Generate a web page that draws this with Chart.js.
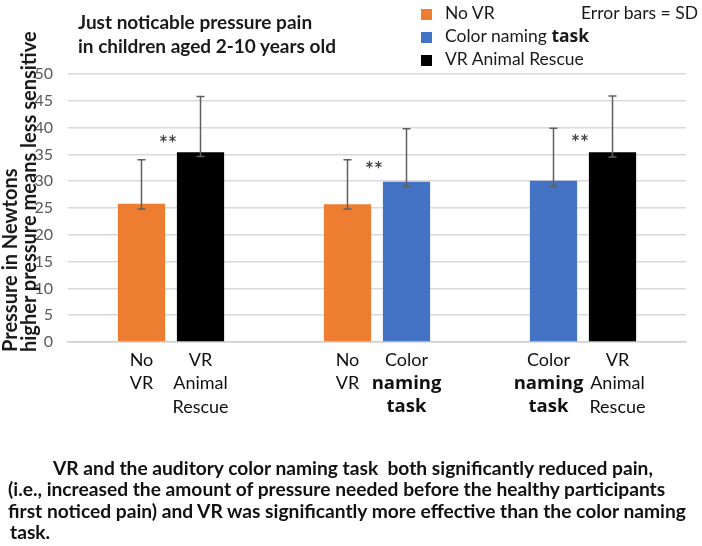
<!DOCTYPE html>
<html>
<head>
<meta charset="utf-8">
<script src="https://cdn.jsdelivr.net/npm/chart.js@4.4.1/dist/chart.umd.min.js"></script>
<style>
    html, body { margin: 0; padding: 0; background: #fff; }
    #wrap { position: relative; width: 702px; height: 546px; overflow: hidden; font-family: Lato, "Open Sans", sans-serif; color: #1a1a1a; }
    #chart { position: absolute; left: 0; top: 0; }
    .title { position: absolute; left: 78px; top: 10px; font-weight: bold; font-size: 19px; line-height: 24px; white-space: nowrap; }
    .legend { position: absolute; left: 421px; top: 1px; font-size: 17.5px; white-space: nowrap; }
    .legend div { height: 23px; line-height: 23px; }
    .legend .box { display: inline-block; width: 11px; height: 11px; margin-right: 13px; vertical-align: -1px; }
    .legend b { font-family: "Open Sans", sans-serif; }
    .note { position: absolute; left: 581px; top: 1px; font-size: 17.5px; line-height: 23px; white-space: nowrap; }
    .ytitle { position: absolute; left: 0px; top: 352px; transform: rotate(-90deg); transform-origin: 0 0;
              font-weight: bold; font-size: 20px; line-height: 19px; white-space: nowrap; }
    .caption div { position: absolute; font-family: Lato, sans-serif;
                   font-weight: bold; font-size: 19.2px; line-height: 21px; white-space: nowrap; color: #111; }
</style>
</head>
<body>
<div id="wrap">
    <canvas id="chart" width="702" height="546"></canvas>
    <div class="title">Just noticable pressure pain<br>in children aged 2-10 years old</div>
    <div class="legend" id="legend"></div>
    <div class="note">Error bars = SD</div>
    <div class="ytitle">Pressure in Newtons<br>higher pressure means less sensitive</div>
    <div class="caption">
        <div style="left:53px; top:457px;">VR and the auditory color naming task&nbsp; both significantly reduced pain,</div>
        <div style="left:8px; top:478px;">(i.e., increased the amount of pressure needed before the healthy participants</div>
        <div style="left:8px; top:500px;">first noticed pain) and VR was significantly more effective than the color naming</div>
        <div style="left:10px; top:521px;">task.</div>
    </div>
</div>
<script>
// three comparisons, each a pair of bars (left / right)
const categories = ["No VR vs VR Animal Rescue", "No VR vs Color naming task", "Color naming task vs VR Animal Rescue"];
const conditions = ["No VR", "Color naming task", "VR Animal Rescue"];
const leftConditions = ["No VR", "No VR", "Color naming task"];
const rightConditions = ["VR Animal Rescue", "Color naming task", "VR Animal Rescue"];

const leftValues = [25.8, 25.7, 30.1];
const rightValues = [35.4, 29.9, 35.4];
const leftErrLow = [24.8, 24.8, 29.0];
const leftErrHigh = [34.0, 34.0, 39.9];
const rightErrLow = [34.6, 29.0, 34.5];
const rightErrHigh = [45.8, 39.8, 45.9];

const sigMarks = ["**", "**", "**"];
const sigValues = [37.8, 32.9, 38.1];

const leftLabels = [["No", "VR"], ["No", "VR"], ["Color", "naming", "task"]];
const rightLabels = [["VR", "Animal", "Rescue"], ["Color", "naming", "task"], ["VR", "Animal", "Rescue"]];

const yTicks = [0, 5, 10, 15, 20, 25, 30, 35, 40, 45, 50];

const colors = {
    "No VR": "#ED7D31",
    "Color naming task": "#4472C4",
    "VR Animal Rescue": "#000000"
};

const legendEl = document.getElementById("legend");
conditions.forEach(c => {
    const row = document.createElement("div");
    const text = c.replace("task", "<b>task</b>");
    row.innerHTML = `<span class="box" style="background:${colors[c]}"></span>${text}`;
    legendEl.appendChild(row);
});

function wordFont(word) {
    const bold = word === "naming" || word === "task";
    return bold ? "bold 18.5px 'Open Sans', sans-serif" : "18px Lato, sans-serif";
}

function labelWidth(ctx, lines) {
    let w = 0;
    lines.forEach(word => {
        ctx.font = wordFont(word);
        w = Math.max(w, ctx.measureText(word).width);
    });
    return w;
}

const overlayPlugin = {
    id: "overlay",
    afterDatasetsDraw(chart) {
        const ctx = chart.ctx;
        const yScale = chart.scales.y;
        const xScale = chart.scales.x;
        ctx.save();

        // error bars
        ctx.strokeStyle = "#5f5f5f";
        ctx.lineWidth = 1.5;
        const errs = [[leftErrLow, leftErrHigh], [rightErrLow, rightErrHigh]];
        errs.forEach((pair, di) => {
            chart.getDatasetMeta(di).data.forEach((bar, i) => {
                const yl = yScale.getPixelForValue(pair[0][i]);
                const yh = yScale.getPixelForValue(pair[1][i]);
                ctx.beginPath();
                ctx.moveTo(bar.x, yl); ctx.lineTo(bar.x, yh);
                ctx.moveTo(bar.x - 4, yl); ctx.lineTo(bar.x + 4, yl);
                ctx.moveTo(bar.x - 4, yh); ctx.lineTo(bar.x + 4, yh);
                ctx.stroke();
            });
        });

        // significance stars
        ctx.fillStyle = "#444";
        ctx.font = "bold 21px Lato, sans-serif";
        ctx.textAlign = "center";
        ctx.textBaseline = "middle";
        sigMarks.forEach((m, i) => {
            ctx.fillText(m, xScale.getPixelForValue(i) - 3, yScale.getPixelForValue(sigValues[i]) + 5);
        });

        // labels under each bar, pushed apart a little when a pair would touch
        ctx.fillStyle = "#111";
        const leftBars = chart.getDatasetMeta(0).data;
        const rightBars = chart.getDatasetMeta(1).data;
        categories.forEach((c, i) => {
            const wl = labelWidth(ctx, leftLabels[i]);
            const wr = labelWidth(ctx, rightLabels[i]);
            const overlap = (wl + wr) / 2 + 6 - (rightBars[i].x - leftBars[i].x);
            const shift = overlap > 0 ? overlap / 2 : 0;
            [[leftLabels[i], leftBars[i].x - shift], [rightLabels[i], rightBars[i].x + shift]].forEach(([lines, x]) => {
                lines.forEach((word, li) => {
                    ctx.font = wordFont(word);
                    ctx.fillText(word, x, yScale.bottom + 18 + li * 23.5);
                });
            });
        });
        ctx.restore();
    }
};

new Chart(document.getElementById("chart"), {
    type: "bar",
    data: {
        labels: categories,
        datasets: [
            {
                label: "left",
                data: leftValues,
                backgroundColor: leftConditions.map(c => colors[c]),
                categoryPercentage: 0.573,
                barPercentage: 0.8
            },
            {
                label: "right",
                data: rightValues,
                backgroundColor: rightConditions.map(c => colors[c]),
                categoryPercentage: 0.573,
                barPercentage: 0.8
            }
        ]
    },
    options: {
        responsive: false,
        animation: false,
        layout: { padding: { left: 0, top: 74, right: 16, bottom: 204 } },
        plugins: {
            legend: { display: false },
            tooltip: { enabled: false }
        },
        scales: {
            x: {
                grid: { display: false, drawTicks: false },
                border: { display: true, color: "#cfcfcf", width: 1.5 },
                ticks: { display: false }
            },
            y: {
                min: 0,
                max: 50,
                afterBuildTicks: scale => { scale.ticks = yTicks.map(v => ({ value: v })); },
                afterFit: scale => { scale.width = 68; },
                grid: { color: "#d9d9d9", lineWidth: 1.5, drawTicks: false, tickLength: 0 },
                border: { display: false },
                ticks: { padding: 15, color: "#595959", font: { family: "Lato", size: 16 } }
            }
        }
    },
    plugins: [overlayPlugin]
});
</script>
</body>
</html>
